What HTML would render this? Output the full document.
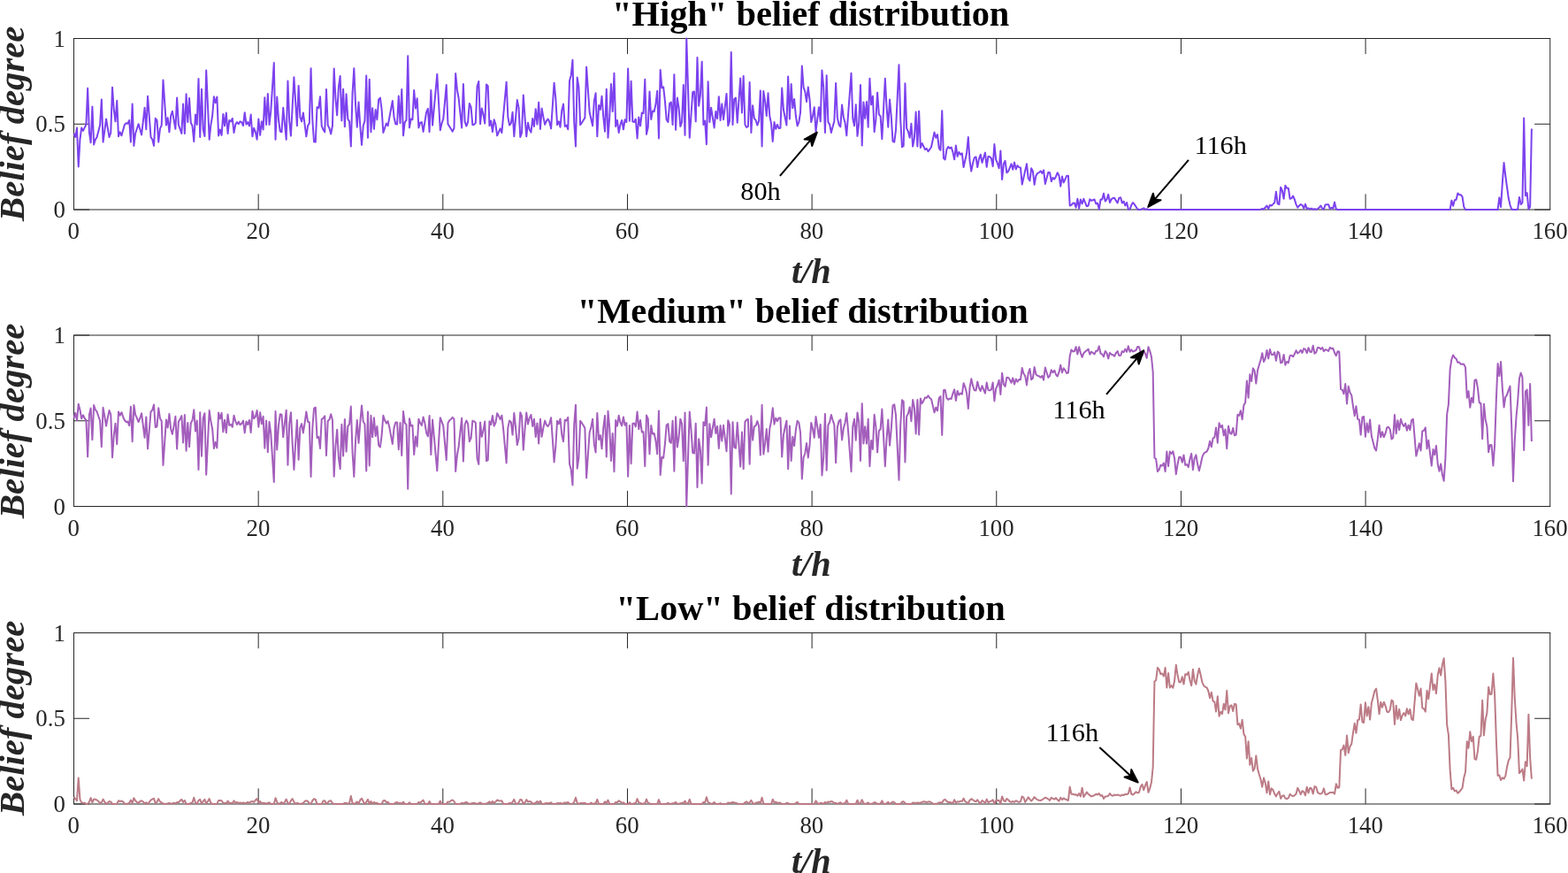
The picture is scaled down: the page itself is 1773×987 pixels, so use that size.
<!DOCTYPE html>
<html lang="en"><head><meta charset="utf-8"><title>Belief distribution</title>
<style>
html,body{margin:0;padding:0;background:#fff;}
body{width:1773px;height:987px;overflow:hidden;}
svg{display:block;}
text{font-family:"Liberation Serif","Times New Roman",serif;fill:#000;}
.tk text{font-size:26.8px;fill:#262626;}
.ti{font-size:40.45px;font-weight:bold;}
.lb{font-size:40.3px;font-weight:bold;font-style:italic;fill:#262626;}
.an{font-size:30.3px;}
.yl{font-size:40.7px;}
</style></head><body>
<svg width="1773" height="987" viewBox="0 0 1773 987">
<rect width="1773" height="987" fill="#fff"/>
<g stroke="#262626" fill="none">
<path d="M83.0,43.5H1753.25" stroke-width="1"/>
<path d="M83.0,237.0H1753.25" stroke-width="1"/>
<path d="M83.5,43.5V237.0" stroke-width="1"/>
<path d="M1752.75,43.5V237.0" stroke-width="1"/>
<path d="M292.16,237.0V219.4" stroke-width="1"/>
<path d="M292.16,43.5V61.1" stroke-width="1"/>
<path d="M500.81,237.0V219.4" stroke-width="1"/>
<path d="M500.81,43.5V61.1" stroke-width="1"/>
<path d="M709.47,237.0V219.4" stroke-width="1"/>
<path d="M709.47,43.5V61.1" stroke-width="1"/>
<path d="M918.12,237.0V219.4" stroke-width="1"/>
<path d="M918.12,43.5V61.1" stroke-width="1"/>
<path d="M1126.78,237.0V219.4" stroke-width="1"/>
<path d="M1126.78,43.5V61.1" stroke-width="1"/>
<path d="M1335.44,237.0V219.4" stroke-width="1"/>
<path d="M1335.44,43.5V61.1" stroke-width="1"/>
<path d="M1544.09,237.0V219.4" stroke-width="1"/>
<path d="M1544.09,43.5V61.1" stroke-width="1"/>
<path d="M83.5,237.0H101.1" stroke-width="1"/>
<path d="M1752.75,237.0H1735.15" stroke-width="1"/>
<path d="M83.5,140.25H101.1" stroke-width="1"/>
<path d="M1752.75,140.25H1735.15" stroke-width="1"/>
<path d="M83.5,43.5H101.1" stroke-width="1"/>
<path d="M1752.75,43.5H1735.15" stroke-width="1"/>
</g>
<polyline points="83.50,150.75 85.24,154.98 86.98,144.41 88.72,188.54 90.46,157.66 92.20,144.41 93.94,147.93 95.68,144.41 97.43,140.88 99.17,99.71 100.91,149.34 102.65,161.33 104.39,120.44 106.13,163.44 107.87,157.80 109.61,154.98 111.35,148.29 113.09,141.59 114.83,112.40 116.57,160.62 118.31,147.58 120.05,134.54 121.79,144.76 123.53,154.98 125.28,150.05 127.02,98.86 128.76,123.96 130.50,137.36 132.24,113.81 133.98,154.28 135.72,149.34 137.46,153.29 139.20,147.09 140.94,140.88 142.68,139.19 144.42,139.75 146.16,135.95 147.90,160.62 149.64,117.62 151.38,164.85 153.13,150.75 154.87,145.47 156.61,140.18 158.35,146.31 160.09,152.45 161.83,137.15 163.57,121.85 165.31,146.24 167.05,108.73 168.79,131.86 170.53,154.98 172.27,157.80 174.01,164.85 175.75,133.83 177.49,135.95 179.24,160.62 180.98,145.39 182.72,141.59 184.46,90.40 186.20,116.00 187.94,141.59 189.68,133.13 191.42,149.34 193.16,131.01 194.90,125.80 196.64,135.81 198.38,145.82 200.12,110.57 201.86,140.88 203.60,145.96 205.34,151.03 207.09,117.62 208.83,151.03 210.57,106.34 212.31,138.06 214.05,110.99 215.79,138.77 217.53,142.29 219.27,159.92 221.01,129.60 222.75,140.88 224.49,88.99 226.23,154.98 227.97,100.70 229.71,146.52 231.45,154.00 233.19,79.55 234.94,118.67 236.68,157.80 238.42,140.88 240.16,131.01 241.90,109.16 243.64,116.21 245.38,109.58 247.12,153.57 248.86,146.52 250.60,152.87 252.34,128.90 254.08,142.29 255.82,127.49 257.56,151.03 259.30,135.95 261.05,137.36 262.79,133.83 264.53,150.05 266.27,140.88 268.01,138.06 269.75,140.18 271.49,137.36 273.23,138.06 274.97,142.01 276.71,127.21 278.45,140.60 280.19,138.06 281.93,142.29 283.67,129.60 285.41,154.28 287.15,144.83 288.90,149.34 290.64,157.80 292.38,134.54 294.12,152.87 295.86,137.36 297.60,146.52 299.34,110.14 301.08,140.88 302.82,106.05 304.56,140.88 306.30,125.37 308.04,98.23 309.78,71.09 311.52,157.80 313.26,109.58 315.00,135.24 316.75,148.64 318.49,149.34 320.23,121.85 321.97,139.83 323.71,157.80 325.45,91.53 327.19,136.65 328.93,153.57 330.67,120.44 332.41,87.30 334.15,114.80 335.89,142.29 337.63,96.89 339.37,132.42 341.11,137.36 342.86,127.49 344.60,140.88 346.34,154.28 348.08,142.29 349.82,139.19 351.56,77.15 353.30,135.24 355.04,160.34 356.78,160.62 358.52,121.14 360.26,122.27 362.00,109.16 363.74,142.29 365.48,146.52 367.22,149.34 368.96,101.12 370.71,141.59 372.45,145.11 374.19,151.46 375.93,142.29 377.67,77.43 379.41,111.27 381.15,130.31 382.89,98.58 384.63,85.89 386.37,136.37 388.11,100.70 389.85,143.28 391.59,106.34 393.33,134.54 395.07,137.36 396.81,165.56 398.56,105.63 400.30,77.15 402.04,118.32 403.78,143.70 405.52,115.50 407.26,142.29 409.00,163.87 410.74,142.29 412.48,136.65 414.22,85.61 415.96,155.69 417.70,89.84 419.44,149.34 421.18,122.27 422.92,145.82 424.67,123.96 426.41,135.24 428.15,112.68 429.89,110.57 431.63,123.96 433.37,150.05 435.11,144.76 436.85,139.47 438.59,142.29 440.33,132.89 442.07,123.49 443.81,114.09 445.55,132.42 447.29,140.18 449.03,140.60 450.77,108.45 452.52,139.19 454.26,101.12 456.00,153.29 457.74,138.06 459.48,135.95 461.22,63.33 462.96,144.41 464.70,134.54 466.44,135.24 468.18,102.11 469.92,122.55 471.66,111.27 473.40,144.41 475.14,138.77 476.88,138.06 478.62,148.92 480.37,137.85 482.11,126.78 483.85,122.83 485.59,149.06 487.33,102.11 489.07,141.59 490.81,122.32 492.55,103.05 494.29,83.78 496.03,115.50 497.77,147.23 499.51,139.47 501.25,134.54 502.99,115.29 504.73,96.04 506.48,140.18 508.22,143.00 509.96,145.82 511.70,148.64 513.44,145.11 515.18,83.07 516.92,101.40 518.66,111.27 520.40,127.84 522.14,144.41 523.88,95.06 525.62,137.36 527.36,142.57 529.10,138.06 530.84,116.91 532.58,121.14 534.33,141.16 536.07,140.88 537.81,138.77 539.55,97.88 541.29,91.95 543.03,140.18 544.77,122.55 546.51,129.60 548.25,139.47 549.99,95.48 551.73,97.17 553.47,142.29 555.21,136.65 556.95,149.06 558.69,135.24 560.43,140.88 562.18,153.29 563.92,149.34 565.66,145.39 567.40,150.05 569.14,130.92 570.88,111.79 572.62,92.66 574.36,132.42 576.10,141.59 577.84,139.47 579.58,126.78 581.32,154.28 583.06,133.62 584.80,112.96 586.54,121.85 588.29,154.98 590.03,150.05 591.77,107.46 593.51,132.42 595.25,154.28 596.99,138.77 598.73,146.52 600.47,149.62 602.21,134.11 603.95,143.00 605.69,123.26 607.43,140.60 609.17,115.78 610.91,145.82 612.65,122.55 614.39,132.42 616.14,140.88 617.88,136.65 619.62,134.54 621.36,138.06 623.10,145.39 624.84,119.52 626.58,93.65 628.32,111.27 630.06,141.16 631.80,137.36 633.54,143.70 635.28,124.67 637.02,117.62 638.76,143.00 640.50,141.59 642.24,146.24 643.99,91.53 645.73,85.19 647.47,67.84 649.21,138.06 650.95,165.56 652.69,87.58 654.43,98.58 656.17,141.16 657.91,138.77 659.65,135.95 661.39,133.13 663.13,75.74 664.87,101.40 666.61,126.78 668.35,134.54 670.10,142.29 671.84,114.09 673.58,105.35 675.32,154.28 677.06,119.03 678.80,123.96 680.54,108.73 682.28,132.42 684.02,148.64 685.76,100.70 687.50,155.69 689.24,132.42 690.98,95.06 692.72,126.08 694.46,82.79 696.20,143.00 697.95,135.95 699.69,150.05 701.43,140.88 703.17,135.95 704.91,146.24 706.65,135.24 708.39,138.06 710.13,77.43 711.87,136.65 713.61,91.81 715.35,137.36 717.09,138.06 718.83,134.54 720.57,156.39 722.31,132.42 724.05,142.29 725.80,127.49 727.54,128.19 729.28,89.84 731.02,151.88 732.76,143.70 734.50,103.52 736.24,134.96 737.98,125.37 739.72,126.08 741.46,117.62 743.20,102.81 744.94,156.39 746.68,79.12 748.42,99.29 750.16,98.30 751.91,114.09 753.65,135.24 755.39,138.06 757.13,116.91 758.87,115.50 760.61,140.88 762.35,84.20 764.09,146.80 765.83,110.57 767.57,121.85 769.31,143.00 771.05,138.06 772.79,96.04 774.53,152.87 776.27,43.59 778.01,99.64 779.76,155.69 781.50,129.95 783.24,104.22 784.98,103.52 786.72,137.36 788.46,65.02 790.20,119.73 791.94,107.04 793.68,69.68 795.42,140.88 797.16,136.65 798.90,163.16 800.64,92.24 802.38,138.06 804.12,121.85 805.86,133.13 807.61,144.41 809.35,126.08 811.09,134.11 812.83,109.16 814.57,135.95 816.31,117.62 818.05,135.24 819.79,120.58 821.53,105.91 823.27,142.29 825.01,136.65 826.75,59.10 828.49,140.88 830.23,111.98 831.97,110.57 833.72,138.77 835.46,113.60 837.20,88.43 838.94,127.49 840.68,85.89 842.42,140.88 844.16,143.98 845.90,143.00 847.64,92.94 849.38,150.05 851.12,119.31 852.86,133.83 854.60,135.95 856.34,141.59 858.08,136.65 859.82,102.39 861.57,165.56 863.31,103.09 865.05,114.09 866.79,131.01 868.53,105.35 870.27,131.01 872.01,139.47 873.75,159.92 875.49,138.06 877.23,145.82 878.97,140.88 880.71,145.11 882.45,144.83 884.19,99.57 885.93,123.96 887.67,132.77 889.42,141.59 891.16,86.60 892.90,134.54 894.64,95.06 896.38,122.27 898.12,111.98 899.86,131.01 901.60,142.29 903.34,138.06 905.08,126.78 906.82,74.61 908.56,98.58 910.30,103.52 912.04,115.08 913.78,98.58 915.53,112.68 917.27,138.06 919.01,131.01 920.75,121.14 922.49,148.64 924.23,134.89 925.97,121.14 927.71,137.36 929.45,79.55 931.19,98.58 932.93,150.05 934.67,85.19 936.41,138.06 938.15,140.88 939.89,150.05 941.63,143.35 943.38,136.65 945.12,94.07 946.86,133.13 948.60,140.88 950.34,143.42 952.08,118.60 953.82,132.42 955.56,138.77 957.30,153.29 959.04,129.79 960.78,106.29 962.52,82.79 964.26,133.83 966.00,142.29 967.74,118.32 969.48,153.86 971.23,139.19 972.97,96.04 974.71,164.57 976.45,115.50 978.19,133.83 979.93,115.08 981.67,143.70 983.41,88.71 985.15,118.32 986.89,108.73 988.63,149.06 990.37,135.24 992.11,104.64 993.85,129.32 995.59,131.29 997.34,157.10 999.08,122.90 1000.82,88.71 1002.56,121.14 1004.30,143.70 1006.04,112.40 1007.78,132.42 1009.52,159.92 1011.26,160.62 1013.00,146.52 1014.74,109.86 1016.48,73.20 1018.22,135.24 1019.96,166.26 1021.70,164.85 1023.44,94.35 1025.19,145.11 1026.93,148.64 1028.67,155.69 1030.41,139.75 1032.15,165.56 1033.89,156.39 1035.63,126.50 1037.37,165.56 1039.11,125.65 1040.85,166.97 1042.59,162.03 1044.33,165.56 1046.07,169.08 1047.81,167.96 1049.55,171.20 1051.29,168.80 1053.04,166.26 1054.78,157.94 1056.52,149.62 1058.26,155.69 1060.00,152.16 1061.74,167.39 1063.48,169.79 1065.22,125.37 1066.96,178.95 1068.70,180.36 1070.44,169.08 1072.18,165.98 1073.92,167.67 1075.66,166.55 1077.40,171.90 1079.15,180.36 1080.89,164.58 1082.63,176.85 1084.37,171.91 1086.11,174.73 1087.85,173.32 1089.59,189.11 1091.33,181.22 1093.07,173.32 1094.81,154.99 1096.55,181.78 1098.29,193.49 1100.03,184.60 1101.77,178.26 1103.51,177.27 1105.25,189.11 1107.00,179.67 1108.74,174.73 1110.48,183.90 1112.22,178.26 1113.96,172.62 1115.70,188.83 1117.44,176.85 1119.18,177.27 1120.92,178.96 1122.66,188.13 1124.40,163.03 1126.14,180.37 1127.88,184.60 1129.62,190.24 1131.36,170.50 1133.10,202.93 1134.85,185.31 1136.59,181.78 1138.33,195.18 1140.07,193.77 1141.81,189.54 1143.55,185.31 1145.29,191.65 1147.03,183.62 1148.77,191.37 1150.51,187.14 1152.25,189.11 1153.99,189.54 1155.73,208.57 1157.47,200.82 1159.21,193.06 1160.96,185.31 1162.70,201.52 1164.44,204.34 1166.18,190.24 1167.92,193.77 1169.66,208.86 1171.40,198.70 1173.14,195.88 1174.88,195.18 1176.62,193.34 1178.36,195.88 1180.10,192.36 1181.84,207.87 1183.58,201.31 1185.32,194.75 1187.06,195.18 1188.81,205.05 1190.55,200.82 1192.29,202.65 1194.03,199.41 1195.77,195.18 1197.51,198.70 1199.25,210.69 1200.99,199.41 1202.73,206.46 1204.47,202.58 1206.21,198.70 1207.95,198.70 1209.69,232.54 1211.43,231.84 1213.17,229.72 1214.91,229.44 1216.66,234.66 1218.40,224.79 1220.14,235.65 1221.88,225.49 1223.62,230.43 1225.36,224.79 1227.10,229.02 1228.84,233.25 1230.58,232.54 1232.32,225.21 1234.06,226.90 1235.80,226.20 1237.54,225.49 1239.28,230.43 1241.02,229.72 1242.77,236.49 1244.51,225.49 1246.25,225.49 1247.99,218.73 1249.73,227.61 1251.47,225.49 1253.21,219.85 1254.95,229.02 1256.69,225.21 1258.43,224.08 1260.17,223.80 1261.91,226.90 1263.65,229.44 1265.39,223.80 1267.13,223.38 1268.87,229.44 1270.62,227.61 1272.36,232.54 1274.10,229.02 1275.84,236.49 1277.58,236.77 1279.32,231.84 1281.06,229.02 1282.80,231.13 1284.54,233.81 1286.28,236.49 1288.02,236.91 1289.76,236.91 1291.50,236.07 1293.24,235.36 1294.98,236.91 1296.72,236.21 1298.47,236.91 1300.21,236.94 1301.95,236.96 1303.69,236.98 1305.43,237.00 1307.17,237.00 1308.91,237.00 1310.65,237.00 1312.39,237.00 1314.13,237.00 1315.87,237.00 1317.61,237.00 1319.35,237.00 1321.09,237.00 1322.83,237.00 1324.58,237.00 1326.32,237.00 1328.06,237.00 1329.80,237.00 1331.54,237.00 1333.28,237.00 1335.02,237.00 1336.76,237.00 1338.50,237.00 1340.24,237.00 1341.98,237.00 1343.72,237.00 1345.46,237.00 1347.20,237.00 1348.94,237.00 1350.68,237.00 1352.43,237.00 1354.17,237.00 1355.91,237.00 1357.65,237.00 1359.39,237.00 1361.13,237.00 1362.87,237.00 1364.61,237.00 1366.35,237.00 1368.09,237.00 1369.83,237.00 1371.57,237.00 1373.31,237.00 1375.05,237.00 1376.79,237.00 1378.53,237.00 1380.28,237.00 1382.02,237.00 1383.76,237.00 1385.50,237.00 1387.24,237.00 1388.98,237.00 1390.72,237.00 1392.46,237.00 1394.20,237.00 1395.94,237.00 1397.68,237.00 1399.42,237.00 1401.16,237.00 1402.90,237.00 1404.64,237.00 1406.39,237.00 1408.13,237.00 1409.87,237.00 1411.61,237.00 1413.35,237.00 1415.09,237.00 1416.83,237.00 1418.57,237.00 1420.31,237.00 1422.05,237.00 1423.79,237.00 1425.53,236.63 1427.27,236.07 1429.01,236.49 1430.75,234.52 1432.49,232.54 1434.24,236.07 1435.98,231.84 1437.72,232.54 1439.46,230.85 1441.20,229.02 1442.94,216.75 1444.68,230.43 1446.42,231.13 1448.16,211.68 1449.90,215.62 1451.64,224.79 1453.38,209.70 1455.12,212.80 1456.86,212.80 1458.60,224.79 1460.34,224.08 1462.09,221.55 1463.83,225.49 1465.57,231.13 1467.31,234.66 1469.05,232.54 1470.79,231.13 1472.53,231.84 1474.27,235.65 1476.01,230.85 1477.75,236.07 1479.49,235.36 1481.23,236.49 1482.97,235.65 1484.71,236.77 1486.45,236.07 1488.20,236.91 1489.94,236.07 1491.68,234.66 1493.42,232.54 1495.16,235.65 1496.90,236.49 1498.64,231.42 1500.38,231.13 1502.12,231.13 1503.86,236.07 1505.60,234.66 1507.34,235.65 1509.08,228.60 1510.82,236.49 1512.56,237.00 1514.30,237.00 1516.05,237.00 1517.79,237.00 1519.53,237.00 1521.27,237.00 1523.01,237.00 1524.75,237.00 1526.49,237.00 1528.23,237.00 1529.97,237.00 1531.71,237.00 1533.45,237.00 1535.19,237.00 1536.93,237.00 1538.67,237.00 1540.41,237.00 1542.15,237.00 1543.90,237.00 1545.64,237.00 1547.38,237.00 1549.12,237.00 1550.86,237.00 1552.60,237.00 1554.34,237.00 1556.08,237.00 1557.82,237.00 1559.56,237.00 1561.30,237.00 1563.04,237.00 1564.78,237.00 1566.52,237.00 1568.26,237.00 1570.01,237.00 1571.75,237.00 1573.49,237.00 1575.23,237.00 1576.97,237.00 1578.71,237.00 1580.45,237.00 1582.19,237.00 1583.93,237.00 1585.67,237.00 1587.41,237.00 1589.15,237.00 1590.89,237.00 1592.63,237.00 1594.37,237.00 1596.11,237.00 1597.86,237.00 1599.60,237.00 1601.34,237.00 1603.08,237.00 1604.82,237.00 1606.56,237.00 1608.30,237.00 1610.04,237.00 1611.78,237.00 1613.52,237.00 1615.26,237.00 1617.00,237.00 1618.74,237.00 1620.48,237.00 1622.22,237.00 1623.96,237.00 1625.71,237.00 1627.45,237.00 1629.19,237.00 1630.93,237.00 1632.67,237.00 1634.41,237.00 1636.15,237.00 1637.89,237.00 1639.63,237.00 1641.37,226.62 1643.11,232.83 1644.85,226.20 1646.59,225.78 1648.33,218.44 1650.07,220.14 1651.82,220.14 1653.56,222.67 1655.30,233.95 1657.04,236.91 1658.78,237.00 1660.52,237.00 1662.26,237.00 1664.00,237.00 1665.74,237.00 1667.48,237.00 1669.22,237.00 1670.96,237.00 1672.70,237.00 1674.44,237.00 1676.18,237.00 1677.92,237.00 1679.67,237.00 1681.41,237.00 1683.15,237.00 1684.89,237.00 1686.63,237.00 1688.37,237.00 1690.11,237.00 1691.85,237.00 1693.59,237.00 1695.33,223.38 1697.07,233.95 1698.81,207.16 1700.55,183.90 1702.29,198.70 1704.03,211.39 1705.77,224.08 1707.52,231.84 1709.26,236.49 1711.00,237.00 1712.74,237.00 1714.48,237.00 1716.22,236.49 1717.96,222.96 1719.70,231.13 1721.44,229.02 1723.18,133.56 1724.92,221.26 1726.66,218.16 1728.40,236.49 1730.14,233.95 1731.88,145.40" fill="none" stroke="#7C42EE" stroke-width="2" stroke-linejoin="round" stroke-linecap="butt"/>
<g class="tk">
<text x="83.2" y="270.0" text-anchor="middle">0</text>
<text x="291.9" y="270.0" text-anchor="middle">20</text>
<text x="500.5" y="270.0" text-anchor="middle">40</text>
<text x="709.2" y="270.0" text-anchor="middle">60</text>
<text x="917.8" y="270.0" text-anchor="middle">80</text>
<text x="1126.5" y="270.0" text-anchor="middle">100</text>
<text x="1335.1" y="270.0" text-anchor="middle">120</text>
<text x="1543.8" y="270.0" text-anchor="middle">140</text>
<text x="1752.5" y="270.0" text-anchor="middle">160</text>
<text x="73.8" y="246.0" text-anchor="end">0</text>
<text x="73.8" y="149.2" text-anchor="end">0.5</text>
<text x="73.8" y="52.5" text-anchor="end">1</text>
</g>
<text class="ti" x="916.7" y="29.0" text-anchor="middle">&quot;High&quot; belief distribution</text>
<text class="lb" x="917.3" y="319.9" text-anchor="middle">t/h</text>
<text class="lb yl" transform="translate(27,139.8) rotate(-90)" text-anchor="middle">Belief degree</text>
<g stroke="#262626" fill="none">
<path d="M83.0,379.0H1753.25" stroke-width="1"/>
<path d="M83.0,572.5H1753.25" stroke-width="1"/>
<path d="M83.5,379.0V572.5" stroke-width="1"/>
<path d="M1752.75,379.0V572.5" stroke-width="1"/>
<path d="M292.16,572.5V554.9" stroke-width="1"/>
<path d="M292.16,379.0V396.6" stroke-width="1"/>
<path d="M500.81,572.5V554.9" stroke-width="1"/>
<path d="M500.81,379.0V396.6" stroke-width="1"/>
<path d="M709.47,572.5V554.9" stroke-width="1"/>
<path d="M709.47,379.0V396.6" stroke-width="1"/>
<path d="M918.12,572.5V554.9" stroke-width="1"/>
<path d="M918.12,379.0V396.6" stroke-width="1"/>
<path d="M1126.78,572.5V554.9" stroke-width="1"/>
<path d="M1126.78,379.0V396.6" stroke-width="1"/>
<path d="M1335.44,572.5V554.9" stroke-width="1"/>
<path d="M1335.44,379.0V396.6" stroke-width="1"/>
<path d="M1544.09,572.5V554.9" stroke-width="1"/>
<path d="M1544.09,379.0V396.6" stroke-width="1"/>
<path d="M83.5,572.5H101.1" stroke-width="1"/>
<path d="M1752.75,572.5H1735.15" stroke-width="1"/>
<path d="M83.5,475.75H101.1" stroke-width="1"/>
<path d="M1752.75,475.75H1735.15" stroke-width="1"/>
<path d="M83.5,379.0H101.1" stroke-width="1"/>
<path d="M1752.75,379.0H1735.15" stroke-width="1"/>
</g>
<polyline points="83.50,472.94 85.24,466.88 86.98,475.34 88.72,456.87 90.46,463.50 92.20,473.23 93.94,469.28 95.68,472.80 97.43,475.20 99.17,516.37 100.91,469.00 102.65,461.52 104.39,497.20 106.13,458.00 107.87,463.36 109.61,465.47 111.35,470.76 113.09,475.62 114.83,505.23 116.57,460.82 118.31,470.76 120.05,481.55 121.79,472.45 123.53,464.06 125.28,468.57 127.02,517.22 128.76,492.12 130.50,478.73 132.24,502.27 133.98,465.47 135.72,469.70 137.46,466.18 139.20,471.53 140.94,475.20 142.68,477.03 144.42,476.61 146.16,481.26 147.90,459.83 149.64,499.31 151.38,458.00 153.13,469.00 154.87,472.59 156.61,477.03 158.35,472.73 160.09,467.30 161.83,481.47 163.57,494.80 165.31,471.39 167.05,507.35 168.79,486.20 170.53,465.47 172.27,463.64 174.01,457.43 175.75,483.10 177.49,482.39 179.24,461.24 180.98,473.23 182.72,476.05 184.46,525.96 186.20,500.23 187.94,474.50 189.68,483.52 191.42,467.87 193.16,485.07 194.90,490.85 196.64,481.40 198.38,470.83 200.12,507.49 201.86,476.75 203.60,473.79 205.34,470.12 207.09,500.44 208.83,469.00 210.57,509.75 212.31,478.02 214.05,505.09 215.79,478.44 217.53,475.34 219.27,463.36 221.01,487.61 222.75,475.48 224.49,531.04 226.23,466.18 227.97,515.67 229.71,472.52 231.45,467.16 233.19,536.82 234.94,500.37 236.68,464.06 238.42,476.33 240.16,485.07 241.90,506.93 243.64,499.88 245.38,506.50 247.12,466.46 248.86,473.51 250.60,466.88 252.34,488.31 254.08,474.64 255.82,489.16 257.56,468.43 259.30,480.98 261.05,479.85 262.79,482.81 264.53,469.70 266.27,476.33 268.01,479.99 269.75,476.75 271.49,480.28 273.23,478.87 274.97,475.62 276.71,489.44 278.45,476.61 280.19,479.99 281.93,474.92 283.67,489.02 285.41,464.77 287.15,473.23 288.90,471.11 290.64,464.06 292.38,482.67 294.12,466.18 295.86,479.29 297.60,470.69 299.34,506.79 301.08,475.48 302.82,511.16 304.56,476.75 306.30,490.71 308.04,517.85 309.78,545.00 311.52,465.05 313.26,508.48 315.00,480.84 316.75,468.29 318.49,468.71 320.23,494.24 321.97,478.23 323.71,463.64 325.45,525.68 327.19,479.43 328.93,466.18 330.67,501.43 332.41,531.04 334.15,501.43 335.89,474.92 337.63,519.76 339.37,483.66 341.11,479.15 342.86,489.44 344.60,478.16 346.34,465.47 348.08,476.75 349.82,477.46 351.56,538.93 353.30,484.51 355.04,461.52 356.78,460.54 358.52,494.94 360.26,493.81 362.00,506.93 363.74,473.79 365.48,472.94 367.22,470.41 368.96,514.96 370.71,476.05 372.45,474.35 374.19,468.29 375.93,474.64 377.67,538.65 379.41,504.81 381.15,485.78 382.89,517.50 384.63,530.19 386.37,479.71 388.11,515.39 389.85,473.93 391.59,510.59 393.33,481.83 395.07,479.57 396.81,459.55 398.56,511.30 400.30,538.93 402.04,498.61 403.78,474.92 405.52,500.86 407.26,478.16 409.00,458.42 410.74,476.75 412.48,479.43 414.22,532.45 415.96,465.47 417.70,526.53 419.44,469.70 421.18,494.09 422.92,472.24 424.67,492.97 426.41,481.97 428.15,503.40 429.89,505.52 431.63,492.12 433.37,469.70 435.11,475.27 436.85,478.58 438.59,476.05 440.33,483.19 442.07,492.59 443.81,501.99 445.55,483.66 447.29,477.46 449.03,477.46 450.77,508.20 452.52,478.02 454.26,514.96 456.00,465.05 457.74,478.02 459.48,480.14 461.22,552.75 462.96,473.23 464.70,481.55 466.44,480.84 468.18,513.98 469.92,493.53 471.66,504.81 473.40,473.65 475.14,478.44 476.88,480.98 478.62,471.53 480.37,478.23 482.11,489.30 483.85,493.25 485.59,469.98 487.33,513.98 489.07,474.50 490.81,493.77 492.55,513.04 494.29,532.31 496.03,500.58 497.77,472.24 499.51,476.61 501.25,481.55 502.99,500.79 504.73,520.04 506.48,478.44 508.22,475.34 509.96,473.93 511.70,471.82 513.44,473.93 515.18,533.01 516.92,514.68 518.66,504.81 520.40,488.24 522.14,472.80 523.88,521.59 525.62,480.28 527.36,475.48 529.10,478.87 530.84,499.17 532.58,495.36 534.33,475.76 536.07,476.33 537.81,477.88 539.55,518.21 541.29,524.90 543.03,477.46 544.77,493.81 546.51,486.62 548.25,476.61 549.99,521.17 551.73,520.04 553.47,476.33 555.21,479.99 556.95,469.98 558.69,481.69 560.43,477.74 562.18,467.16 563.92,470.41 565.66,474.07 567.40,469.70 569.14,485.16 570.88,504.29 572.62,523.42 574.36,483.66 576.10,475.62 577.84,477.17 579.58,491.56 581.32,466.88 583.06,483.03 584.80,503.12 586.54,495.79 588.29,466.18 590.03,470.41 591.77,508.62 593.51,485.21 595.25,466.60 596.99,479.57 598.73,472.52 600.47,469.00 602.21,481.97 603.95,473.65 605.69,493.95 607.43,478.44 609.17,501.43 610.91,473.65 612.65,493.81 614.39,483.66 616.14,475.62 617.88,480.28 619.62,482.11 621.36,478.87 623.10,472.24 624.84,496.56 626.58,522.44 628.32,504.81 630.06,475.76 631.80,479.29 633.54,473.51 635.28,491.42 637.02,499.24 638.76,474.64 640.50,475.62 642.24,471.82 643.99,524.55 645.73,531.04 647.47,548.52 649.21,479.99 650.95,457.72 652.69,529.63 654.43,517.50 656.17,475.76 657.91,478.16 659.65,480.98 661.39,484.08 663.13,540.34 664.87,514.68 666.61,489.30 668.35,482.96 670.10,473.79 671.84,502.41 673.58,511.58 675.32,466.88 677.06,497.06 678.80,492.12 680.54,507.35 682.28,483.66 684.02,469.98 685.76,516.51 687.50,464.77 689.24,483.66 690.98,521.03 692.72,490.01 694.46,533.29 696.20,475.06 697.95,481.69 699.69,469.70 701.43,477.74 703.17,481.26 704.91,471.39 706.65,480.84 708.39,478.02 710.13,538.65 711.87,480.98 713.61,524.27 715.35,479.01 717.09,478.58 718.83,482.39 720.57,465.47 722.31,485.21 724.05,474.92 725.80,488.60 727.54,488.31 729.28,527.09 731.02,469.56 732.76,473.51 734.50,513.13 736.24,481.12 737.98,490.71 739.72,490.01 741.46,498.47 743.20,513.27 744.94,464.48 746.68,536.96 748.42,516.80 750.16,517.78 751.91,501.99 753.65,480.84 755.39,479.15 757.13,499.17 758.87,500.86 760.61,475.76 762.35,532.73 764.09,471.25 765.83,505.52 767.57,494.52 769.31,473.65 771.05,479.15 772.79,521.17 774.53,466.60 776.27,572.49 778.01,517.29 779.76,465.47 781.50,486.13 783.24,511.86 784.98,512.57 786.72,478.73 788.46,551.06 790.20,496.35 791.94,509.04 793.68,546.41 795.42,477.17 797.16,480.98 798.90,460.54 800.64,525.82 802.38,479.15 804.12,494.24 805.86,483.52 807.61,473.65 809.35,490.01 811.09,481.97 812.83,506.93 814.57,480.98 816.31,498.47 818.05,480.84 819.79,495.50 821.53,510.17 823.27,475.20 825.01,480.28 826.75,558.53 828.49,477.17 830.23,505.67 831.97,506.67 833.72,477.86 835.46,502.42 837.20,527.59 838.94,488.53 840.68,530.12 842.42,476.81 844.16,474.77 845.90,473.93 847.64,524.75 849.38,470.23 851.12,497.62 852.86,482.18 854.60,481.29 856.34,476.10 858.08,481.80 859.82,514.54 861.57,457.77 863.31,513.53 865.05,501.92 866.79,485.00 868.53,510.67 870.27,485.00 872.01,476.54 873.75,461.27 875.49,479.63 877.23,472.63 878.97,476.05 880.71,472.43 882.45,472.40 884.19,516.45 885.93,492.05 887.67,483.24 889.42,475.65 891.16,530.33 892.90,481.48 894.64,520.96 896.38,493.75 898.12,504.04 899.86,485.92 901.60,475.85 903.34,477.95 905.08,489.23 906.82,541.40 908.56,517.43 910.30,512.50 912.04,500.94 913.78,517.43 915.53,503.33 917.27,477.95 919.01,485.00 920.75,494.87 922.49,471.03 924.23,482.04 925.97,494.87 927.71,479.88 929.45,537.38 931.19,517.43 932.93,468.10 934.67,531.74 936.41,480.39 938.15,477.26 939.89,469.01 941.63,475.10 943.38,480.28 945.12,523.16 946.86,482.89 948.60,476.05 950.34,474.42 952.08,497.41 953.82,484.05 955.56,478.16 957.30,466.99 959.04,486.53 960.78,509.73 962.52,533.23 964.26,482.18 966.00,473.72 967.74,497.69 969.48,466.42 971.23,476.82 972.97,520.89 974.71,456.16 976.45,501.43 978.19,482.18 979.93,501.55 981.67,473.84 983.41,527.30 985.15,498.00 986.89,507.89 988.63,468.78 990.37,482.30 992.11,511.37 993.85,487.00 995.59,485.33 997.34,462.57 999.08,493.42 1000.82,527.30 1002.56,495.79 1004.30,474.44 1006.04,503.62 1007.78,484.81 1009.52,458.53 1011.26,457.22 1013.00,469.49 1014.74,506.15 1016.48,542.81 1018.22,480.77 1019.96,452.19 1021.70,453.90 1023.44,522.58 1025.19,470.90 1026.93,467.38 1028.67,460.33 1030.41,476.26 1032.15,451.98 1033.89,460.84 1035.63,490.43 1037.37,451.98 1039.11,491.58 1040.85,450.57 1042.59,456.11 1044.33,453.20 1046.07,449.37 1047.81,449.89 1049.55,447.25 1051.29,449.95 1053.04,451.27 1054.78,458.68 1056.52,466.39 1058.26,460.63 1060.00,464.46 1061.74,450.15 1063.48,448.05 1065.22,491.86 1066.96,441.33 1068.70,440.83 1070.44,449.98 1072.18,451.86 1073.92,450.47 1075.66,450.99 1077.40,445.03 1079.15,440.37 1080.89,452.96 1082.63,441.91 1084.37,446.54 1086.11,444.63 1087.85,445.74 1089.59,433.14 1091.33,437.54 1093.07,444.52 1094.81,461.94 1096.55,438.50 1098.29,428.32 1100.03,436.11 1101.77,441.15 1103.51,441.49 1105.25,431.59 1107.00,438.45 1108.74,442.08 1110.48,436.16 1112.22,440.51 1113.96,444.59 1115.70,432.52 1117.44,440.88 1119.18,441.49 1120.92,440.45 1122.66,432.58 1124.40,453.40 1126.14,439.69 1127.88,435.72 1129.62,429.82 1131.36,445.93 1133.10,421.67 1134.85,434.75 1136.59,436.98 1138.33,426.83 1140.07,426.94 1141.81,429.23 1143.55,432.81 1145.29,427.37 1147.03,434.50 1148.77,428.43 1150.51,431.62 1152.25,429.00 1153.99,429.23 1155.73,416.03 1157.47,422.49 1159.21,425.05 1160.96,435.40 1162.70,422.17 1164.44,417.01 1166.18,429.17 1167.92,427.59 1169.66,415.10 1171.40,423.30 1173.14,424.83 1174.88,425.14 1176.62,426.72 1178.36,424.83 1180.10,429.65 1181.84,415.43 1183.58,421.34 1185.32,426.86 1187.06,424.88 1188.81,418.25 1190.55,421.19 1192.29,418.71 1194.03,423.51 1195.77,425.53 1197.51,420.71 1199.25,412.61 1200.99,421.30 1202.73,416.20 1204.47,418.78 1206.21,422.01 1207.95,421.36 1209.69,402.82 1211.43,395.36 1213.17,397.47 1214.91,397.10 1216.66,392.15 1218.40,400.46 1220.14,392.20 1221.88,399.11 1223.62,403.90 1225.36,399.16 1227.10,397.53 1228.84,396.15 1230.58,394.65 1232.32,400.69 1234.06,397.70 1235.80,399.05 1237.54,400.40 1239.28,396.77 1241.02,396.82 1242.77,391.35 1244.51,399.76 1246.25,400.40 1247.99,403.28 1249.73,396.99 1251.47,399.11 1253.21,405.40 1254.95,398.82 1256.69,400.69 1258.43,401.17 1260.17,402.74 1261.91,398.99 1263.65,397.10 1265.39,402.10 1267.13,401.87 1268.87,397.10 1270.62,398.29 1272.36,394.65 1274.10,397.79 1275.84,391.35 1277.58,397.82 1279.32,395.36 1281.06,397.53 1282.80,396.71 1284.54,395.98 1286.28,392.00 1288.02,392.23 1289.76,398.71 1291.50,402.15 1293.24,396.37 1294.98,400.01 1296.72,404.87 1298.47,392.23 1300.21,396.74 1301.95,403.27 1303.69,420.76 1305.43,517.44 1307.17,518.97 1308.91,533.13 1310.65,531.15 1312.39,525.82 1314.13,526.58 1315.87,523.53 1317.61,533.13 1319.35,510.59 1321.09,527.04 1322.83,510.59 1324.58,512.87 1326.32,510.28 1328.06,518.20 1329.80,536.17 1331.54,525.06 1333.28,516.68 1335.02,516.68 1336.76,522.77 1338.50,514.40 1340.24,525.82 1341.98,525.06 1343.72,528.10 1345.46,518.97 1347.20,512.87 1348.94,531.15 1350.68,518.20 1352.43,514.40 1354.17,525.06 1355.91,532.21 1357.65,525.06 1359.39,516.68 1361.13,512.87 1362.87,511.35 1364.61,510.59 1366.35,506.78 1368.09,498.71 1369.83,505.26 1371.57,495.36 1373.31,494.60 1375.05,483.48 1376.79,500.69 1378.53,478.31 1380.28,483.18 1382.02,480.89 1383.76,492.32 1385.50,485.46 1387.24,507.24 1388.98,481.66 1390.72,489.57 1392.46,490.79 1394.20,483.94 1395.94,492.32 1397.68,491.55 1399.42,468.71 1401.16,469.95 1402.90,464.31 1404.64,474.24 1406.39,458.11 1408.13,455.29 1409.87,430.47 1411.61,449.65 1413.35,423.14 1415.09,431.03 1416.83,416.37 1418.57,419.19 1420.31,433.63 1422.05,418.63 1423.79,412.42 1425.53,407.15 1427.27,399.25 1429.01,408.98 1430.75,405.32 1432.49,396.01 1434.24,405.46 1435.98,395.02 1437.72,401.09 1439.46,401.09 1441.20,398.41 1442.94,407.85 1444.68,397.56 1446.42,399.11 1448.16,410.45 1449.90,409.55 1451.64,400.94 1453.38,412.65 1455.12,408.98 1456.86,410.11 1458.60,402.30 1460.34,401.65 1462.09,403.29 1463.83,400.24 1465.57,396.29 1467.31,399.53 1469.05,398.27 1470.79,395.73 1472.53,398.97 1474.27,394.04 1476.01,394.88 1477.75,399.25 1479.49,393.19 1481.23,397.70 1482.97,397.98 1484.71,390.65 1486.45,399.82 1488.20,398.41 1489.94,393.05 1491.68,393.10 1493.42,394.88 1495.16,392.91 1496.90,397.14 1498.64,395.22 1500.38,395.73 1502.12,396.86 1503.86,392.82 1505.60,394.23 1507.34,393.70 1509.08,398.83 1510.82,402.21 1512.56,397.19 1514.30,397.76 1516.05,440.06 1517.79,440.62 1519.53,445.36 1521.27,434.08 1523.01,456.42 1524.75,436.68 1526.49,444.01 1528.23,446.83 1529.97,459.24 1531.71,470.18 1533.45,459.24 1535.19,473.90 1536.93,474.46 1538.67,491.60 1540.41,471.73 1542.15,471.05 1543.90,493.66 1545.64,478.58 1547.38,488.86 1549.12,474.47 1550.86,492.98 1552.60,499.83 1554.34,506.68 1556.08,509.42 1557.82,496.40 1559.56,480.64 1561.30,494.35 1563.04,488.18 1564.78,494.35 1566.52,490.23 1568.26,483.38 1570.01,482.70 1571.75,485.44 1573.49,496.40 1575.23,495.03 1576.97,468.99 1578.71,490.23 1580.45,475.16 1582.19,486.12 1583.93,473.79 1585.67,479.27 1587.41,482.01 1589.15,478.58 1590.89,486.81 1592.63,480.64 1594.37,486.12 1596.11,475.16 1597.86,473.79 1599.60,494.69 1601.34,515.59 1603.08,508.74 1604.82,501.20 1606.56,509.42 1608.30,487.49 1610.04,486.81 1611.78,483.38 1613.52,507.37 1615.26,497.77 1617.00,512.16 1618.74,526.55 1620.48,508.05 1622.22,514.22 1623.96,503.94 1625.71,524.50 1627.45,532.72 1629.19,524.50 1630.93,536.83 1632.67,543.69 1634.41,517.65 1636.15,468.31 1637.89,457.34 1639.63,417.59 1641.37,406.23 1643.11,401.41 1644.85,404.34 1646.59,405.69 1648.33,409.78 1650.07,409.48 1651.82,411.79 1653.56,411.57 1655.30,411.85 1657.04,415.36 1658.78,449.80 1660.52,442.26 1662.26,460.77 1664.00,449.80 1665.74,455.28 1667.48,429.93 1669.22,429.24 1670.96,438.84 1672.70,455.28 1674.44,455.97 1676.18,496.13 1677.92,456.66 1679.67,474.47 1681.41,482.01 1683.15,511.20 1684.89,502.98 1686.63,503.25 1688.37,526.55 1690.11,503.25 1691.85,451.86 1693.59,411.11 1695.33,425.20 1697.07,409.07 1698.81,438.64 1700.55,460.52 1702.29,448.95 1704.03,446.43 1705.77,441.14 1707.52,436.62 1709.26,483.20 1711.00,544.10 1712.74,499.14 1714.48,471.73 1716.22,453.05 1717.96,427.93 1719.70,421.60 1721.44,426.49 1723.18,509.00 1724.92,442.57 1726.66,440.59 1728.40,480.87 1730.14,434.05 1731.88,499.01" fill="none" stroke="#A35EBC" stroke-width="2" stroke-linejoin="round" stroke-linecap="butt"/>
<g class="tk">
<text x="83.2" y="605.5" text-anchor="middle">0</text>
<text x="291.9" y="605.5" text-anchor="middle">20</text>
<text x="500.5" y="605.5" text-anchor="middle">40</text>
<text x="709.2" y="605.5" text-anchor="middle">60</text>
<text x="917.8" y="605.5" text-anchor="middle">80</text>
<text x="1126.5" y="605.5" text-anchor="middle">100</text>
<text x="1335.1" y="605.5" text-anchor="middle">120</text>
<text x="1543.8" y="605.5" text-anchor="middle">140</text>
<text x="1752.5" y="605.5" text-anchor="middle">160</text>
<text x="73.8" y="581.5" text-anchor="end">0</text>
<text x="73.8" y="484.8" text-anchor="end">0.5</text>
<text x="73.8" y="388.0" text-anchor="end">1</text>
</g>
<text class="ti" x="907.7" y="364.9" text-anchor="middle">&quot;Medium&quot; belief distribution</text>
<text class="lb" x="917.3" y="650.6" text-anchor="middle">t/h</text>
<text class="lb yl" transform="translate(27,475.9) rotate(-90)" text-anchor="middle">Belief degree</text>
<g stroke="#262626" fill="none">
<path d="M83.0,715.5H1753.25" stroke-width="1"/>
<path d="M83.0,909.0H1753.25" stroke-width="1"/>
<path d="M83.5,715.5V909.0" stroke-width="1"/>
<path d="M1752.75,715.5V909.0" stroke-width="1"/>
<path d="M292.16,909.0V891.4" stroke-width="1"/>
<path d="M292.16,715.5V733.1" stroke-width="1"/>
<path d="M500.81,909.0V891.4" stroke-width="1"/>
<path d="M500.81,715.5V733.1" stroke-width="1"/>
<path d="M709.47,909.0V891.4" stroke-width="1"/>
<path d="M709.47,715.5V733.1" stroke-width="1"/>
<path d="M918.12,909.0V891.4" stroke-width="1"/>
<path d="M918.12,715.5V733.1" stroke-width="1"/>
<path d="M1126.78,909.0V891.4" stroke-width="1"/>
<path d="M1126.78,715.5V733.1" stroke-width="1"/>
<path d="M1335.44,909.0V891.4" stroke-width="1"/>
<path d="M1335.44,715.5V733.1" stroke-width="1"/>
<path d="M1544.09,909.0V891.4" stroke-width="1"/>
<path d="M1544.09,715.5V733.1" stroke-width="1"/>
<path d="M83.5,909.0H101.1" stroke-width="1"/>
<path d="M1752.75,909.0H1735.15" stroke-width="1"/>
<path d="M83.5,812.25H101.1" stroke-width="1"/>
<path d="M1752.75,812.25H1735.15" stroke-width="1"/>
<path d="M83.5,715.5H101.1" stroke-width="1"/>
<path d="M1752.75,715.5H1735.15" stroke-width="1"/>
</g>
<polyline points="83.50,901.30 85.24,903.14 86.98,905.25 88.72,879.59 90.46,903.84 92.20,907.37 93.94,907.79 95.68,907.79 97.43,908.92 99.17,908.92 100.91,906.66 102.65,902.15 104.39,907.37 106.13,903.56 107.87,903.84 109.61,904.55 111.35,905.96 113.09,907.79 114.83,907.37 116.57,903.56 118.31,906.66 120.05,908.92 121.79,907.79 123.53,905.96 125.28,906.38 127.02,908.92 128.76,908.92 130.50,908.92 132.24,908.92 133.98,905.25 135.72,905.96 137.46,905.53 139.20,906.38 140.94,908.92 142.68,908.78 144.42,908.64 146.16,907.79 147.90,904.55 149.64,908.07 151.38,902.15 153.13,905.25 154.87,906.94 156.61,907.79 158.35,905.96 160.09,905.25 161.83,906.38 163.57,908.35 165.31,907.37 167.05,908.92 168.79,906.94 170.53,904.55 172.27,903.56 174.01,902.71 175.75,908.07 177.49,906.66 179.24,903.14 180.98,906.38 182.72,907.37 184.46,908.64 186.20,908.78 187.94,908.92 189.68,908.35 191.42,907.79 193.16,908.92 194.90,908.35 196.64,907.79 198.38,908.35 200.12,906.94 201.86,907.37 203.60,905.25 205.34,903.84 207.09,906.94 208.83,904.97 210.57,908.92 212.31,908.92 214.05,908.92 215.79,907.79 217.53,907.37 219.27,901.73 221.01,907.79 222.75,908.64 224.49,904.97 226.23,903.84 227.97,908.64 229.71,905.96 231.45,903.84 233.19,908.64 234.94,905.96 236.68,903.14 238.42,907.79 240.16,908.92 241.90,908.92 243.64,908.92 245.38,908.92 247.12,904.97 248.86,904.97 250.60,905.25 252.34,907.79 254.08,908.07 255.82,908.35 257.56,905.53 259.30,908.07 261.05,907.79 262.79,908.35 264.53,905.25 266.27,907.79 268.01,906.94 269.75,908.07 271.49,907.37 273.23,908.07 274.97,907.37 276.71,908.35 278.45,907.79 280.19,906.94 281.93,907.79 283.67,906.38 285.41,905.96 287.15,906.94 288.90,904.55 290.64,903.14 292.38,907.79 294.12,905.96 295.86,908.35 297.60,907.79 299.34,908.07 301.08,908.64 302.82,907.79 304.56,907.37 306.30,908.92 308.04,908.92 309.78,908.92 311.52,902.15 313.26,906.94 315.00,908.92 316.75,908.07 318.49,906.94 320.23,908.92 321.97,906.94 323.71,903.56 325.45,907.79 327.19,908.92 328.93,905.25 330.67,903.14 332.41,906.66 334.15,908.78 335.89,907.79 337.63,908.35 339.37,908.92 341.11,908.49 342.86,908.07 344.60,905.96 346.34,905.25 348.08,905.96 349.82,908.35 351.56,908.92 353.30,905.25 355.04,903.14 356.78,903.84 358.52,908.92 360.26,908.92 362.00,908.92 363.74,908.92 365.48,905.53 367.22,905.25 368.96,908.92 370.71,907.37 372.45,905.53 374.19,905.25 375.93,908.07 377.67,908.92 379.41,908.92 381.15,908.92 382.89,908.92 384.63,908.92 386.37,908.92 388.11,908.92 389.85,907.79 391.59,908.07 393.33,908.64 395.07,908.07 396.81,899.89 398.56,908.07 400.30,908.92 402.04,908.07 403.78,906.38 405.52,908.64 407.26,904.55 409.00,902.71 410.74,905.96 412.48,908.92 414.22,906.94 415.96,903.84 417.70,908.64 419.44,905.96 421.18,908.64 422.92,906.94 424.67,908.07 426.41,907.79 428.15,908.92 429.89,908.92 431.63,908.92 433.37,905.25 435.11,904.97 436.85,906.94 438.59,906.66 440.33,908.92 442.07,908.92 443.81,908.92 445.55,908.92 447.29,907.37 449.03,906.94 450.77,908.35 452.52,907.79 454.26,908.92 456.00,906.66 457.74,908.92 459.48,908.92 461.22,908.92 462.96,907.37 464.70,908.92 466.44,908.92 468.18,908.92 469.92,908.92 471.66,908.92 473.40,906.94 475.14,907.79 476.88,905.96 478.62,904.55 480.37,908.92 482.11,908.92 483.85,908.92 485.59,905.96 487.33,908.92 489.07,908.92 490.81,908.92 492.55,908.92 494.29,908.92 496.03,908.92 497.77,905.53 499.51,908.92 501.25,908.92 502.99,908.92 504.73,908.92 506.48,906.38 508.22,906.66 509.96,905.25 511.70,904.55 513.44,905.96 515.18,908.92 516.92,908.92 518.66,908.92 520.40,908.92 522.14,907.79 523.88,908.35 525.62,907.37 527.36,906.94 529.10,908.07 530.84,908.92 532.58,908.49 534.33,908.07 536.07,907.79 537.81,908.35 539.55,908.92 541.29,908.14 543.03,907.37 544.77,908.64 546.51,908.78 548.25,908.92 549.99,908.35 551.73,907.79 553.47,906.38 555.21,908.35 556.95,905.96 558.69,908.07 560.43,906.38 562.18,904.55 563.92,905.25 565.66,905.53 567.40,905.25 569.14,908.92 570.88,908.92 572.62,908.92 574.36,908.92 576.10,907.79 577.84,908.35 579.58,906.66 581.32,903.84 583.06,908.35 584.80,908.92 586.54,907.37 588.29,903.84 590.03,904.55 591.77,908.92 593.51,907.37 595.25,904.12 596.99,906.66 598.73,905.96 600.47,906.38 602.21,908.92 603.95,908.35 605.69,907.79 607.43,905.96 609.17,907.79 610.91,905.53 612.65,908.64 614.39,908.92 616.14,908.49 617.88,908.07 619.62,908.35 621.36,908.07 623.10,907.37 624.84,908.92 626.58,908.92 628.32,908.92 630.06,908.07 631.80,908.35 633.54,907.79 635.28,908.92 637.02,908.14 638.76,907.37 640.50,907.79 642.24,906.94 643.99,908.92 645.73,908.78 647.47,908.64 649.21,906.94 650.95,901.73 652.69,907.79 654.43,908.92 656.17,908.07 657.91,908.07 659.65,908.07 661.39,907.79 663.13,908.92 664.87,908.92 666.61,908.92 668.35,907.51 670.10,908.92 671.84,908.49 673.58,908.07 675.32,903.84 677.06,908.92 678.80,908.92 680.54,908.92 682.28,908.92 684.02,906.38 685.76,907.79 687.50,904.55 689.24,908.92 690.98,908.92 692.72,908.92 694.46,908.92 696.20,906.94 697.95,907.37 699.69,905.25 701.43,906.38 703.17,907.79 704.91,907.37 706.65,908.92 708.39,908.92 710.13,908.92 711.87,907.37 713.61,908.92 715.35,908.64 717.09,908.35 718.83,908.07 720.57,903.14 722.31,907.37 724.05,907.79 725.80,908.92 727.54,908.49 729.28,908.07 731.02,903.56 732.76,907.79 734.50,908.35 736.24,908.92 737.98,908.92 739.72,908.92 741.46,908.92 743.20,908.92 744.94,904.12 746.68,908.92 748.42,908.92 750.16,908.92 751.91,908.92 753.65,908.92 755.39,907.79 757.13,908.92 758.87,908.64 760.61,908.35 762.35,908.07 764.09,906.94 765.83,908.92 767.57,908.64 769.31,908.35 771.05,907.79 772.79,907.79 774.53,905.53 776.27,908.92 778.01,908.07 779.76,903.84 781.50,908.92 783.24,908.92 784.98,908.92 786.72,908.92 788.46,908.92 790.20,908.92 791.94,908.92 793.68,908.92 795.42,906.94 797.16,907.37 798.90,901.30 800.64,906.94 802.38,907.79 804.12,908.92 805.86,908.35 807.61,906.94 809.35,908.92 811.09,908.92 812.83,908.92 814.57,908.07 816.31,908.92 818.05,908.92 819.79,908.92 821.53,908.92 823.27,907.51 825.01,908.07 826.75,907.37 828.49,906.94 830.23,907.35 831.97,907.77 833.72,908.38 835.46,908.98 837.20,908.98 838.94,908.98 840.68,908.98 842.42,907.31 844.16,906.24 845.90,908.07 847.64,907.31 849.38,904.72 851.12,908.07 852.86,908.98 854.60,907.77 856.34,907.31 858.08,906.55 859.82,908.07 861.57,901.68 863.31,908.38 865.05,908.98 866.79,908.98 868.53,908.98 870.27,908.98 872.01,908.98 873.75,903.81 875.49,907.31 877.23,906.55 878.97,908.07 880.71,907.46 882.45,907.77 884.19,908.98 885.93,908.98 887.67,908.98 889.42,907.77 891.16,908.07 892.90,908.98 894.64,908.98 896.38,908.98 898.12,908.98 899.86,908.07 901.60,906.85 903.34,908.98 905.08,908.98 906.82,908.98 908.56,908.98 910.30,908.98 912.04,908.98 913.78,908.98 915.53,908.98 917.27,908.98 919.01,908.98 920.75,908.98 922.49,905.33 924.23,908.07 925.97,908.98 927.71,907.77 929.45,908.07 931.19,908.98 932.93,906.85 934.67,908.07 936.41,906.55 938.15,906.85 939.89,905.94 941.63,906.55 943.38,908.07 945.12,907.77 946.86,908.98 948.60,908.07 950.34,907.16 952.08,908.98 953.82,908.53 955.56,908.07 957.30,904.72 959.04,908.68 960.78,908.98 962.52,908.98 964.26,908.98 966.00,908.98 967.74,908.98 969.48,904.72 971.23,908.98 972.97,908.07 974.71,904.26 976.45,908.07 978.19,908.98 979.93,908.38 981.67,907.46 983.41,908.98 985.15,908.68 986.89,908.38 988.63,907.16 990.37,907.46 992.11,908.98 993.85,908.68 995.59,908.38 997.34,905.33 999.08,908.68 1000.82,908.98 1002.56,908.07 1004.30,906.85 1006.04,908.98 1007.78,907.77 1009.52,906.55 1011.26,907.16 1013.00,908.98 1014.74,908.98 1016.48,908.98 1018.22,908.98 1019.96,906.55 1021.70,906.24 1023.44,908.07 1025.19,908.98 1026.93,908.98 1028.67,908.98 1030.41,908.98 1032.15,907.46 1033.89,907.77 1035.63,908.07 1037.37,907.46 1039.11,907.77 1040.85,907.46 1042.59,906.85 1044.33,906.24 1046.07,906.55 1047.81,907.16 1049.55,906.55 1051.29,906.24 1053.04,907.46 1054.78,908.38 1056.52,908.98 1058.26,908.68 1060.00,908.38 1061.74,907.46 1063.48,907.16 1065.22,907.77 1066.96,904.72 1068.70,903.81 1070.44,905.94 1072.18,907.16 1073.92,906.85 1075.66,907.46 1077.40,908.07 1079.15,904.26 1080.89,907.46 1082.63,906.24 1084.37,906.55 1086.11,905.63 1087.85,905.94 1089.59,902.74 1091.33,906.24 1093.07,907.16 1094.81,908.07 1096.55,904.72 1098.29,903.20 1100.03,904.29 1101.77,905.59 1103.51,906.24 1105.25,904.29 1107.00,906.89 1108.74,908.18 1110.48,904.94 1112.22,906.24 1113.96,907.79 1115.70,903.64 1117.44,907.28 1119.18,906.24 1120.92,905.59 1122.66,904.29 1124.40,908.57 1126.14,904.94 1127.88,904.68 1129.62,904.94 1131.36,908.57 1133.10,900.40 1134.85,904.94 1136.59,906.24 1138.33,902.99 1140.07,904.29 1141.81,906.24 1143.55,906.89 1145.29,905.98 1147.03,906.89 1148.77,905.20 1150.51,906.24 1152.25,906.89 1153.99,906.24 1155.73,900.40 1157.47,901.70 1159.21,906.89 1160.96,904.29 1162.70,901.31 1164.44,903.64 1166.18,905.59 1167.92,903.64 1169.66,901.05 1171.40,902.99 1173.14,904.29 1174.88,904.68 1176.62,904.94 1178.36,904.29 1180.10,902.99 1181.84,901.70 1183.58,902.35 1185.32,903.38 1187.06,904.94 1188.81,901.70 1190.55,902.99 1192.29,903.64 1194.03,902.09 1195.77,904.29 1197.51,905.59 1199.25,901.70 1200.99,904.29 1202.73,902.35 1204.47,903.64 1206.21,904.29 1207.95,904.94 1209.69,889.63 1211.43,897.81 1213.17,897.81 1214.91,898.45 1216.66,898.19 1218.40,899.75 1220.14,897.16 1221.88,900.40 1223.62,890.67 1225.36,901.05 1227.10,898.45 1228.84,895.60 1230.58,897.81 1232.32,899.10 1234.06,900.40 1235.80,899.75 1237.54,899.10 1239.28,897.81 1241.02,898.45 1242.77,897.16 1244.51,899.75 1246.25,899.10 1247.99,902.99 1249.73,900.40 1251.47,900.40 1253.21,899.75 1254.95,897.16 1256.69,899.10 1258.43,899.75 1260.17,898.45 1261.91,899.10 1263.65,898.45 1265.39,899.10 1267.13,899.75 1268.87,898.45 1270.62,899.10 1272.36,897.81 1274.10,898.19 1275.84,897.16 1277.58,890.41 1279.32,897.81 1281.06,898.45 1282.80,897.16 1284.54,895.21 1286.28,896.51 1288.02,895.86 1289.76,889.37 1291.50,886.78 1293.24,893.27 1294.98,888.08 1296.72,883.92 1298.47,895.86 1300.21,891.32 1301.95,884.77 1303.69,867.26 1305.43,770.56 1307.17,769.04 1308.91,754.87 1310.65,756.85 1312.39,762.18 1314.13,761.42 1315.87,764.47 1317.61,754.87 1319.35,777.41 1321.09,760.96 1322.83,777.41 1324.58,775.13 1326.32,777.72 1328.06,769.80 1329.80,751.83 1331.54,762.94 1333.28,771.32 1335.02,771.32 1336.76,765.23 1338.50,773.60 1340.24,762.18 1341.98,762.94 1343.72,759.90 1345.46,769.04 1347.20,775.13 1348.94,756.85 1350.68,769.80 1352.43,773.60 1354.17,762.94 1355.91,755.79 1357.65,762.94 1359.39,771.32 1361.13,775.13 1362.87,776.65 1364.61,777.41 1366.35,781.22 1368.09,789.29 1369.83,782.74 1371.57,792.64 1373.31,793.40 1375.05,804.52 1376.79,787.31 1378.53,809.70 1380.28,804.82 1382.02,807.11 1383.76,795.69 1385.50,802.54 1387.24,780.76 1388.98,806.35 1390.72,798.43 1392.46,797.21 1394.20,804.06 1395.94,795.69 1397.68,796.45 1399.42,819.29 1401.16,818.05 1402.90,823.69 1404.64,813.76 1406.39,829.89 1408.13,832.71 1409.87,857.53 1411.61,838.35 1413.35,864.86 1415.09,856.97 1416.83,871.63 1418.57,868.81 1420.31,854.37 1422.05,869.37 1423.79,875.58 1425.53,881.22 1427.27,889.68 1429.01,879.53 1430.75,885.17 1432.49,896.45 1434.24,883.47 1435.98,898.14 1437.72,891.37 1439.46,893.06 1441.20,897.57 1442.94,900.39 1444.68,897.01 1446.42,894.75 1448.16,902.88 1449.90,899.83 1451.64,899.27 1453.38,902.65 1455.12,903.21 1456.86,902.09 1458.60,897.91 1460.34,899.27 1462.09,900.17 1463.83,899.27 1465.57,897.57 1467.31,890.81 1469.05,894.19 1470.79,898.14 1472.53,894.19 1474.27,895.32 1476.01,899.27 1477.75,889.68 1479.49,896.45 1481.23,890.81 1482.97,891.37 1484.71,897.57 1486.45,889.11 1488.20,889.68 1489.94,895.88 1491.68,897.24 1493.42,897.57 1495.16,896.45 1496.90,891.37 1498.64,898.36 1500.38,898.14 1502.12,897.01 1503.86,896.11 1505.60,896.11 1507.34,895.66 1509.08,897.57 1510.82,886.29 1512.56,890.81 1514.30,890.24 1516.05,847.94 1517.79,847.38 1519.53,842.64 1521.27,853.92 1523.01,831.58 1524.75,851.33 1526.49,843.99 1528.23,841.17 1529.97,828.76 1531.71,817.82 1533.45,828.76 1535.19,814.10 1536.93,813.54 1538.67,796.40 1540.41,816.27 1542.15,816.95 1543.90,794.34 1545.64,809.42 1547.38,799.14 1549.12,813.53 1550.86,795.03 1552.60,788.17 1554.34,781.32 1556.08,778.58 1557.82,791.60 1559.56,807.36 1561.30,793.65 1563.04,799.82 1564.78,793.65 1566.52,797.77 1568.26,804.62 1570.01,805.30 1571.75,802.56 1573.49,791.60 1575.23,792.97 1576.97,819.01 1578.71,797.77 1580.45,812.84 1582.19,801.88 1583.93,814.21 1585.67,808.73 1587.41,805.99 1589.15,809.42 1590.89,801.19 1592.63,807.36 1594.37,801.88 1596.11,812.84 1597.86,814.21 1599.60,793.31 1601.34,772.41 1603.08,779.26 1604.82,786.80 1606.56,778.58 1608.30,800.51 1610.04,801.19 1611.78,804.62 1613.52,780.63 1615.26,790.23 1617.00,775.84 1618.74,761.45 1620.48,779.95 1622.22,773.78 1623.96,784.06 1625.71,763.50 1627.45,755.28 1629.19,763.50 1630.93,751.17 1632.67,744.31 1634.41,770.36 1636.15,819.70 1637.89,830.66 1639.63,870.41 1641.37,892.15 1643.11,890.76 1644.85,894.46 1646.59,893.54 1648.33,896.77 1650.07,895.39 1651.82,893.07 1653.56,890.76 1655.30,879.20 1657.04,872.72 1658.78,838.20 1660.52,845.74 1662.26,827.23 1664.00,838.20 1665.74,832.72 1667.48,858.07 1669.22,858.76 1670.96,849.16 1672.70,832.72 1674.44,832.03 1676.18,791.87 1677.92,831.35 1679.67,813.53 1681.41,805.99 1683.15,776.80 1684.89,785.02 1686.63,784.75 1688.37,761.45 1690.11,784.75 1691.85,836.14 1693.59,876.89 1695.33,876.42 1697.07,881.97 1698.81,879.20 1700.55,880.59 1702.29,877.35 1704.03,867.17 1705.77,859.77 1707.52,856.54 1709.26,805.30 1711.00,743.90 1712.74,788.86 1714.48,816.27 1716.22,835.46 1717.96,874.11 1719.70,872.26 1721.44,869.49 1723.18,882.44 1724.92,861.16 1726.66,866.25 1728.40,807.63 1730.14,857.00 1731.88,880.59" fill="none" stroke="#BC7B86" stroke-width="2" stroke-linejoin="round" stroke-linecap="butt"/>
<g class="tk">
<text x="83.2" y="942.0" text-anchor="middle">0</text>
<text x="291.9" y="942.0" text-anchor="middle">20</text>
<text x="500.5" y="942.0" text-anchor="middle">40</text>
<text x="709.2" y="942.0" text-anchor="middle">60</text>
<text x="917.8" y="942.0" text-anchor="middle">80</text>
<text x="1126.5" y="942.0" text-anchor="middle">100</text>
<text x="1335.1" y="942.0" text-anchor="middle">120</text>
<text x="1543.8" y="942.0" text-anchor="middle">140</text>
<text x="1752.5" y="942.0" text-anchor="middle">160</text>
<text x="73.8" y="918.0" text-anchor="end">0</text>
<text x="73.8" y="821.2" text-anchor="end">0.5</text>
<text x="73.8" y="724.5" text-anchor="end">1</text>
</g>
<text class="ti" x="916.7" y="700.9" text-anchor="middle">&quot;Low&quot; belief distribution</text>
<text class="lb" x="917.3" y="987.2" text-anchor="middle">t/h</text>
<text class="lb yl" transform="translate(27,811.9) rotate(-90)" text-anchor="middle">Belief degree</text>
<path d="M881.90,198.80L916.65,158.04" stroke="#000" stroke-width="2" fill="none"/>
<path d="M923.79,149.67L918.27,164.93L916.65,158.04L909.59,157.53Z" fill="#000" stroke="#000" stroke-width="2" stroke-linejoin="round"/>
<text class="an" x="837.3" y="226">80h</text>
<path d="M1343.96,180.97L1305.49,225.61" stroke="#000" stroke-width="2" fill="none"/>
<path d="M1298.31,233.94L1303.92,218.70L1305.49,225.61L1312.55,226.15Z" fill="#000" stroke="#000" stroke-width="2" stroke-linejoin="round"/>
<text class="an" x="1350.4" y="173.9">116h</text>
<path d="M1251.05,445.86L1286.07,404.65" stroke="#000" stroke-width="2" fill="none"/>
<path d="M1293.19,396.27L1287.69,411.54L1286.07,404.65L1279.01,404.16Z" fill="#000" stroke="#000" stroke-width="2" stroke-linejoin="round"/>
<text class="an" x="1190.3" y="472.7">116h</text>
<path d="M1243.30,845.00L1278.54,877.14" stroke="#000" stroke-width="2" fill="none"/>
<path d="M1286.67,884.56L1271.59,878.52L1278.54,877.14L1279.28,870.10Z" fill="#000" stroke="#000" stroke-width="2" stroke-linejoin="round"/>
<text class="an" x="1182.6" y="838.1">116h</text>
</svg>
</body></html>
